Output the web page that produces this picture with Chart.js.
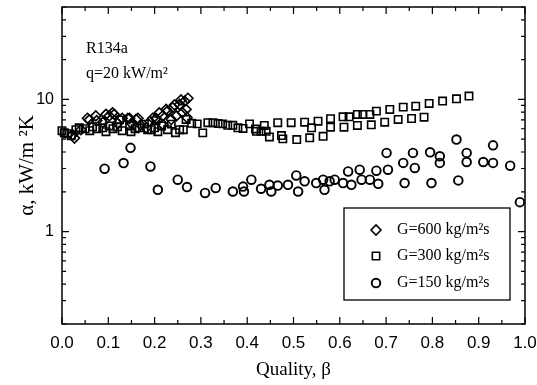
<!DOCTYPE html>
<html>
<head>
<meta charset="utf-8">
<script src="https://cdn.jsdelivr.net/npm/chart.js@4"></script>
<style>
  html, body { margin: 0; padding: 0; background: #fff; }
  #wrap { width: 537px; height: 385px; }
</style>
</head>
<body>
<div id="wrap"><canvas id="myChart"></canvas></div>
<script>
// G=600 kg/m2s
const g600Quality = [0.023, 0.027, 0.041, 0.055, 0.059, 0.073, 0.075, 0.088, 0.095, 0.102, 0.109, 0.113, 0.12, 0.13, 0.142, 0.146, 0.15, 0.16, 0.164, 0.17, 0.182, 0.19, 0.196, 0.203, 0.21, 0.218, 0.218, 0.225, 0.228, 0.236, 0.239, 0.243, 0.247, 0.254, 0.257, 0.26, 0.265, 0.268, 0.27, 0.272];
const g600Alpha   = [5.4, 5.1, 5.9, 7.2, 7.0, 7.5, 6.9, 6.7, 7.7, 7.5, 7.9, 7.7, 6.6, 7.2, 7.2, 7.2, 6.6, 7.05, 7.2, 6.4, 6.1, 6.8, 7.2, 7.2, 7.9, 7.55, 6.45, 8.4, 8.15, 7.05, 8.65, 9.1, 7.5, 9.15, 9.9, 7.95, 9.7, 8.4, 7.3, 10.2];

// G=300 kg/m2s
const g300Quality = [0.0, 0.005, 0.012, 0.02, 0.03, 0.037, 0.05, 0.06, 0.066, 0.075, 0.088, 0.095, 0.102, 0.11, 0.12, 0.124, 0.13, 0.146, 0.149, 0.158, 0.167, 0.178, 0.185, 0.193, 0.2, 0.203, 0.207, 0.215, 0.228, 0.236, 0.245, 0.254, 0.262, 0.268, 0.28, 0.292, 0.304, 0.315, 0.326, 0.337, 0.347, 0.358, 0.369, 0.38, 0.391, 0.405, 0.418, 0.42, 0.43, 0.437, 0.441, 0.448, 0.466, 0.474, 0.477, 0.495, 0.507, 0.524, 0.535, 0.539, 0.553, 0.564, 0.58, 0.58, 0.607, 0.609, 0.62, 0.638, 0.638, 0.65, 0.665, 0.668, 0.679, 0.697, 0.708, 0.726, 0.737, 0.755, 0.764, 0.782, 0.793, 0.822, 0.852, 0.879];
const g300Alpha   = [5.8, 5.6, 5.5, 5.3, 5.9, 6.1, 6.0, 5.8, 6.2, 6.0, 6.1, 5.7, 6.3, 6.0, 6.2, 7.0, 5.8, 6.3, 5.7, 6.0, 6.1, 6.5, 5.9, 5.9, 6.1, 6.9, 5.7, 6.3, 5.9, 6.5, 5.6, 5.9, 5.9, 7.05, 6.6, 6.53, 5.58, 6.66, 6.66, 6.57, 6.53, 6.37, 6.37, 6.1, 6.03, 6.53, 5.98, 5.74, 5.74, 6.35, 5.74, 5.2, 6.66, 5.33, 5.03, 6.66, 4.97, 6.72, 5.12, 6.1, 6.84, 5.26, 7.14, 6.16, 7.39, 6.16, 7.39, 7.69, 6.35, 7.69, 7.69, 6.43, 8.15, 6.72, 8.4, 7.05, 8.74, 7.17, 8.89, 7.34, 9.32, 9.71, 10.1, 10.6];

// G=150 kg/m2s
const g150Quality = [0.092, 0.133, 0.148, 0.191, 0.207, 0.25, 0.27, 0.309, 0.332, 0.369, 0.391, 0.393, 0.409, 0.43, 0.448, 0.452, 0.466, 0.488, 0.506, 0.51, 0.524, 0.549, 0.564, 0.567, 0.578, 0.589, 0.607, 0.618, 0.625, 0.643, 0.647, 0.665, 0.679, 0.683, 0.701, 0.704, 0.737, 0.74, 0.758, 0.762, 0.795, 0.798, 0.816, 0.816, 0.852, 0.856, 0.874, 0.874, 0.91, 0.931, 0.931, 0.968, 0.989];
const g150Alpha   = [2.99, 3.3, 4.3, 3.11, 2.07, 2.47, 2.17, 1.96, 2.14, 2.01, 2.19, 2.01, 2.47, 2.11, 2.26, 2.01, 2.23, 2.26, 2.66, 2.01, 2.4, 2.33, 2.47, 2.07, 2.4, 2.47, 2.33, 2.85, 2.26, 2.94, 2.47, 2.47, 2.89, 2.3, 3.94, 2.94, 3.31, 2.33, 3.94, 3.03, 3.98, 2.33, 3.71, 3.31, 4.97, 2.44, 3.94, 3.36, 3.36, 4.49, 3.31, 3.15, 1.67];

const seriesLabels = ['G=600 kg/m²s', 'G=300 kg/m²s', 'G=150 kg/m²s'];
const xTickValues = [0, 0.1, 0.2, 0.3, 0.4, 0.5, 0.6, 0.7, 0.8, 0.9, 1.0];
const yTickValues = [1, 10];

const toPoints = (xs, ys) => xs.map((x, i) => ({ x: x, y: ys[i] }));

const serif = "'Liberation Serif', 'Times New Roman', serif";
const sans = "'Liberation Sans', Arial, sans-serif";

// frame, inward ticks, notes and legend
const framePlugin = {
  id: 'framePlugin',
  afterDraw(chart) {
    const ctx = chart.ctx;
    const a = chart.chartArea;
    const xs = chart.scales.x;
    const ys = chart.scales.y;
    ctx.save();
    ctx.strokeStyle = '#000';
    ctx.lineWidth = 1.5;
    ctx.strokeRect(a.left, a.top, a.right - a.left, a.bottom - a.top);

    ctx.lineWidth = 1.2;
    ctx.beginPath();
    for (let i = 0; i <= 20; i++) {
      const v = i * 0.05;
      const px = xs.getPixelForValue(v);
      const len = i % 2 === 0 ? 7 : 4;
      ctx.moveTo(px, a.bottom); ctx.lineTo(px, a.bottom - len);
      ctx.moveTo(px, a.top); ctx.lineTo(px, a.top + len);
    }
    const decades = [0.1, 1, 10];
    decades.forEach(d => {
      for (let m = 1; m <= 9; m++) {
        const v = d * m;
        if (v < 0.2 || v > 50) continue;
        const py = ys.getPixelForValue(v);
        const len = m === 1 ? 7 : 4;
        ctx.moveTo(a.left, py); ctx.lineTo(a.left + len, py);
        ctx.moveTo(a.right, py); ctx.lineTo(a.right - len, py);
      }
    });
    ctx.stroke();

    // notes
    ctx.fillStyle = '#000';
    ctx.font = '16px ' + serif;
    ctx.textAlign = 'left';
    ctx.textBaseline = 'alphabetic';
    ctx.fillText('R134a', 86, 53);
    ctx.fillText('q=20 kW/m²', 86, 78);

    // legend
    const box = { x: 344, y: 208, w: 166, h: 92 };
    ctx.lineWidth = 1.3;
    ctx.strokeRect(box.x, box.y, box.w, box.h);
    ctx.font = '16px ' + serif;
    ctx.textBaseline = 'middle';
    const rowY = [230, 256, 283];
    chart.data.datasets.forEach((ds, i) => {
      ctx.fillStyle = '#fff';
      ctx.strokeStyle = '#000';
      ctx.lineWidth = ds.borderWidth;
      Chart.helpers.drawPoint(ctx, {
        pointStyle: ds.pointStyle,
        radius: ds.pointRadius,
        borderWidth: ds.borderWidth,
        rotation: 0
      }, 376, rowY[i]);
      ctx.fillStyle = '#000';
      ctx.fillText(ds.label, 397, rowY[i]);
    });
    ctx.restore();
  }
};

const ctx = document.getElementById('myChart').getContext('2d');
const myChart = new Chart(ctx, {
  type: 'scatter',
  data: {
    datasets: [
      {
        label: seriesLabels[0],
        data: toPoints(g600Quality, g600Alpha),
        pointStyle: 'rectRot',
        pointRadius: 5,
        borderWidth: 1.6,
        borderColor: '#000',
        backgroundColor: 'rgba(255,255,255,0)',
        clip: false
      },
      {
        label: seriesLabels[1],
        data: toPoints(g300Quality, g300Alpha),
        pointStyle: 'rect',
        pointRadius: 5.2,
        borderWidth: 1.6,
        borderColor: '#000',
        backgroundColor: 'rgba(255,255,255,0)',
        clip: false
      },
      {
        label: seriesLabels[2],
        data: toPoints(g150Quality, g150Alpha),
        pointStyle: 'circle',
        pointRadius: 4.3,
        borderWidth: 1.9,
        borderColor: '#000',
        backgroundColor: 'rgba(255,255,255,0)',
        clip: false
      }
    ]
  },
  options: {
    responsive: true,
    maintainAspectRatio: false,
    animation: false,
    layout: { padding: { left: 0, top: 7, right: 12, bottom: 0 } },
    plugins: {
      legend: { display: false },
      tooltip: { enabled: false }
    },
    scales: {
      x: {
        type: 'linear',
        min: 0,
        max: 1,
        afterBuildTicks: scale => { scale.ticks = xTickValues.map(v => ({ value: v })); },
        afterFit: scale => {
          scale.height = 61;
          scale.paddingLeft = 0;
          scale.paddingRight = 0;
        },
        grid: { display: false, drawTicks: false },
        border: { display: false },
        ticks: {
          color: '#000',
          padding: 9,
          font: { family: sans, size: 17 },
          callback: v => v.toFixed(1),
          maxRotation: 0
        },
        title: {
          display: true,
          text: 'Quality, β',
          color: '#000',
          font: { family: serif, size: 19 },
          padding: { top: 1 }
        }
      },
      y: {
        type: 'logarithmic',
        min: 0.2,
        max: 50,
        afterBuildTicks: scale => { scale.ticks = yTickValues.map(v => ({ value: v })); },
        afterFit: scale => {
          scale.width = 62;
          scale.paddingTop = 0;
          scale.paddingBottom = 0;
        },
        grid: { display: false, drawTicks: false },
        border: { display: false },
        ticks: {
          color: '#000',
          padding: 8,
          font: { family: sans, size: 16 },
          callback: v => String(v)
        },
        title: {
          display: true,
          text: 'α, kW/m ²K',
          color: '#000',
          font: { family: serif, size: 21 },
          padding: { bottom: 0, top: 15 }
        }
      }
    }
  },
  plugins: [framePlugin]
});
</script>
</body>
</html>
